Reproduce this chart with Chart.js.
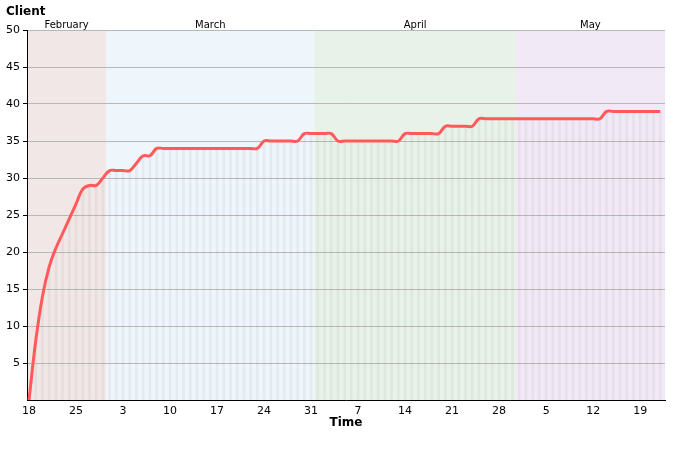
<!DOCTYPE html>
<html>
<head>
<meta charset="utf-8">
<script src="https://cdn.jsdelivr.net/npm/chart.js@4.4.0/dist/chart.umd.min.js"></script>
<style>
  body { margin: 0; background: #fff; }
</style>
</head>
<body>
<canvas id="chart" width="680" height="450"></canvas>
<script>
// one value per day, day 0 = 18 February, last day = 22 May
const clients = [
  0, 8, 14, 18, 20.5, 22.5, 24.5, 26.5, 28.5, 29, 29, 30, 31, 31, 31, 31, 32, 33, 33,
  34, 34, 34, 34, 34, 34, 34, 34, 34, 34, 34, 34, 34, 34, 34, 34,
  35, 35, 35, 35, 35, 35,
  36, 36, 36, 36, 36,
  35, 35, 35, 35, 35, 35, 35, 35, 35, 35,
  36, 36, 36, 36, 36, 36,
  37, 37, 37, 37, 37,
  38, 38, 38, 38, 38, 38, 38, 38, 38, 38, 38, 38, 38, 38, 38, 38, 38, 38, 38,
  39, 39, 39, 39, 39, 39, 39, 39, 39
];
const days = clients.map((v, i) => i);

// x axis ticks (day index -> day of month)
const tickDays = [0, 7, 14, 21, 28, 35, 42, 49, 56, 63, 70, 77, 84, 91];
const tickLabels = ['18', '25', '3', '10', '17', '24', '31', '7', '14', '21', '28', '5', '12', '19'];

// months shown as background bands (first day of each month as day index)
const months = ['February', 'March', 'April', 'May'];
const monthStart = [-17, 12, 43, 73];
const bandColors = ['#f2e7e7', '#eef5fb', '#e9f2e9', '#f2e9f6'];

const points = days.map((d, i) => ({ x: d, y: clients[i] }));

const bands = {
    id: 'bands',
    beforeDraw(chart) {
        const { ctx, chartArea: a, scales: { x } } = chart;
        ctx.save();
        months.forEach((m, i) => {
            let l = x.getPixelForValue(monthStart[i] - 0.5);
            let r = i + 1 < months.length ? x.getPixelForValue(monthStart[i + 1] - 0.5) : a.right;
            l = Math.max(l, a.left);
            r = Math.min(r, a.right);
            ctx.fillStyle = bandColors[i];
            ctx.fillRect(l, a.top, r - l, a.bottom - a.top);
            ctx.fillStyle = '#000';
            ctx.font = '10px "DejaVu Sans"';
            ctx.textAlign = 'center';
            ctx.textBaseline = 'middle';
            ctx.fillText(m, (l + r) / 2, a.top - 5);
        });
        ctx.fillStyle = '#000';
        ctx.font = 'bold 12px "DejaVu Sans"';
        ctx.textAlign = 'left';
        ctx.textBaseline = 'middle';
        ctx.fillText('Client', 6, 12);
        ctx.textAlign = 'center';
        ctx.fillText('Time', (a.left + a.right) / 2, 423);
        ctx.restore();
    }
};

Chart.defaults.font.family = '"DejaVu Sans"';
Chart.defaults.font.size = 11;
Chart.defaults.color = '#000';

new Chart(document.getElementById('chart').getContext('2d'), {
    type: 'line',
    data: {
        datasets: [{
            type: 'line',
            data: points,
            borderColor: 'rgb(255, 90, 90)',
            borderWidth: 3,
            pointRadius: 0,
            tension: 0.4,
            fill: false,
            order: 1
        }, {
            type: 'bar',
            data: points,
            backgroundColor: 'rgba(110, 110, 110, 0.08)',
            barThickness: 2,
            order: 2
        }]
    },
    options: {
        responsive: false,
        animation: false,
        layout: { padding: { top: 30, right: 15, bottom: 0, left: 0 } },
        plugins: {
            legend: { display: false },
            tooltip: { enabled: false }
        },
        scales: {
            x: {
                type: 'linear',
                offset: false,
                min: -0.3,
                max: 94.7,
                grid: { display: false },
                border: { display: true, color: '#000', width: 1 },
                afterFit: (scale) => { scale.height = 50; },
                afterBuildTicks: (scale) => {
                    scale.ticks = tickDays.map(v => ({ value: v }));
                },
                ticks: {
                    autoSkip: false,
                    maxRotation: 0,
                    padding: -3,
                    callback: (v) => tickLabels[tickDays.indexOf(v)]
                }
            },
            y: {
                min: 0,
                max: 50,
                afterFit: (scale) => { scale.width = 27; },
                grid: {
                    color: '#b8b8b8',
                    tickColor: (c) => c.tick && c.tick.value === 0 ? 'rgba(0,0,0,0)' : '#000',
                    tickLength: 4
                },
                border: { display: true, color: '#000', width: 1 },
                ticks: {
                    stepSize: 5,
                    padding: 3,
                    callback: (v) => v === 0 ? '' : v
                }
            }
        }
    },
    plugins: [bands]
});
</script>
</body>
</html>
